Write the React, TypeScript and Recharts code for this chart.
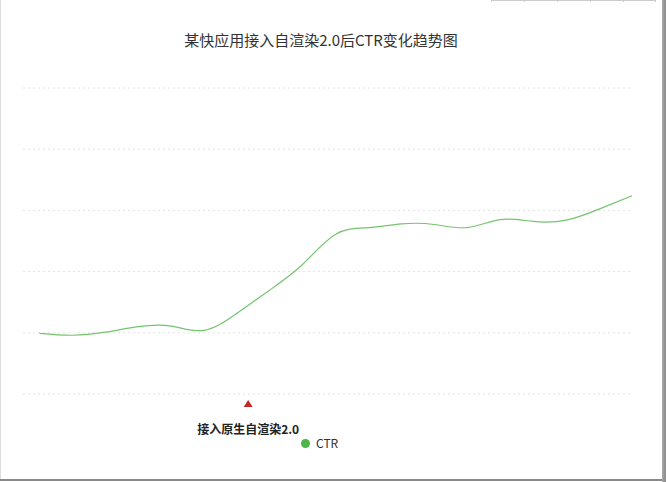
import React from 'react';
import { LineChart, Line, XAxis, YAxis, CartesianGrid } from 'recharts';

const TITLE = '某快应用接入自渲染2.0后CTR变化趋势图';
const SERIES_NAME = 'CTR';
const EVENT_LABEL = '接入原生自渲染2.0';
const EVENT_X = 6.34;

const xIndex = [0, 1, 2, 3, 4, 5, 6, 7, 8, 9, 10, 11, 12, 13, 14, 15, 16, 17, 18];
const ctrValues = [0.99, 0.96, 1.01, 1.1, 1.11, 1.04, 1.32, 1.7, 2.12, 2.61, 2.72, 2.78, 2.77, 2.72, 2.85, 2.82, 2.84, 3.02, 3.24];
const yTicks = [0, 1, 2, 3, 4, 5];

const data = xIndex.map((x, i) => ({ x, ctr: ctrValues[i] }));

const FONT = '"Noto Sans CJK SC", "Noto Sans", sans-serif';

function EventTick(props: any) {
  const { x, y } = props;
  return (
    <g>
      <polygon points={`${x - 4.5},${y + 13} ${x + 4.5},${y + 13} ${x},${y + 6}`} fill="#c62828" />
      <text x={x} y={y + 40} textAnchor="middle" fontSize={12} fontWeight="bold" fill="#222" fontFamily={FONT}>
        {EVENT_LABEL}
      </text>
    </g>
  );
}

export default function App() {
  return (
    <div style={{ position: 'absolute', left: 0, top: 0, width: 666, height: 482, background: '#fff', overflow: 'hidden' }}>
      <div style={{ position: 'absolute', left: 0, top: 0, width: 1, height: 480, background: '#ddd' }} />
      <div style={{ position: 'absolute', left: 0, top: 479, width: 666, height: 2, background: '#8a8a8a' }} />
      <div style={{ position: 'absolute', left: 662, top: 0, width: 4, height: 482, background: 'linear-gradient(to right, #aaa, #888)' }} />
      <div style={{ position: 'absolute', left: 491, top: 0, width: 165, height: 1, background: '#ccc' }} />
      {[491, 524, 557, 590, 623, 655].map((lx) => (
        <div key={lx} style={{ position: 'absolute', left: lx, top: 0, width: 1, height: 2, background: '#ccc' }} />
      ))}
      <div
        style={{
          position: 'absolute',
          left: 0,
          width: 642,
          top: 30,
          textAlign: 'center',
          fontFamily: FONT,
          fontSize: 15,
          color: '#333',
          lineHeight: '20px',
        }}
      >
        {TITLE}
      </div>
      <div style={{ position: 'absolute', left: 0, top: 0 }}>
        <LineChart width={666} height={482} data={data} margin={{ top: 88, right: 34, bottom: 48, left: 23 }}>
          <CartesianGrid vertical={false} stroke="#e2e2e2" strokeDasharray="2 3" />
          <XAxis
            dataKey="x"
            type="number"
            domain={[-0.5, 18]}
            ticks={[EVENT_X]}
            axisLine={false}
            tickLine={false}
            tickSize={0}
            tickMargin={0}
            height={40}
            interval={0}
            tick={<EventTick />}
          />
          <YAxis hide domain={[0, 5]} ticks={yTicks} />
          <Line
            type="natural"
            dataKey="ctr"
            name={SERIES_NAME}
            stroke="#74c46d"
            strokeWidth={1.2}
            dot={false}
            activeDot={false}
            isAnimationActive={false}
          />
        </LineChart>
      </div>
      <div
        style={{
          position: 'absolute',
          left: 301,
          top: 435,
          display: 'flex',
          alignItems: 'center',
          fontFamily: FONT,
          fontSize: 12,
          color: '#333',
          lineHeight: '16px',
        }}
      >
        <span style={{ width: 9, height: 9, borderRadius: '50%', background: '#4cb648', display: 'inline-block', marginRight: 6 }} />
        <span>{SERIES_NAME}</span>
      </div>
    </div>
  );
}
